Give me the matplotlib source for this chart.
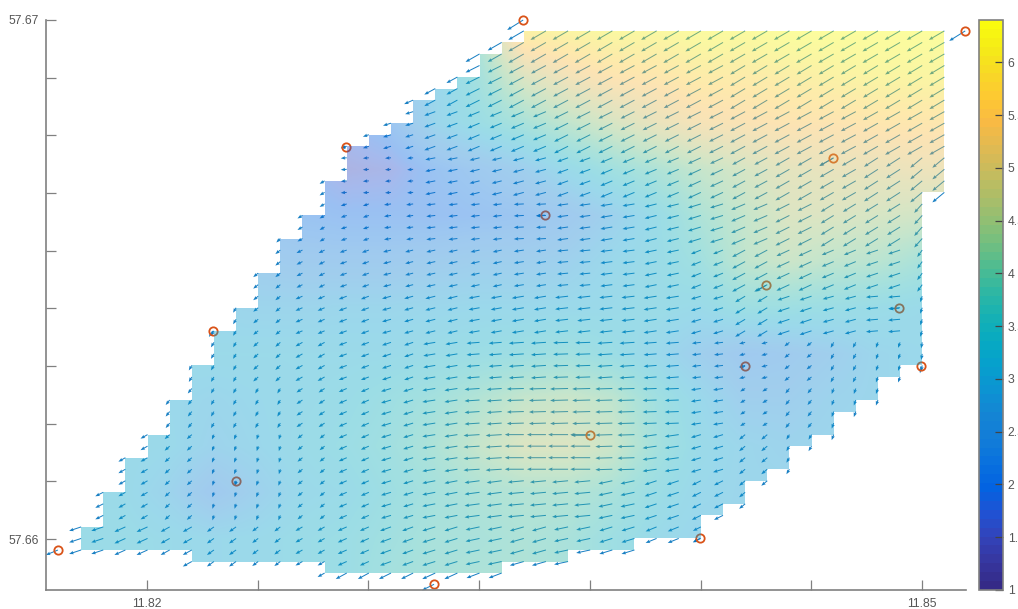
import numpy as np
import matplotlib
matplotlib.use('Agg')
import matplotlib.pyplot as plt
from matplotlib.colors import LinearSegmentedColormap
from matplotlib.patches import Polygon

plt.rcParams['font.family'] = ['Liberation Sans', 'DejaVu Sans']

# grid the field is defined on
lon_start = 11.81745
lat_top = 57.66979
lon_step = 0.0008567
lat_step = -0.0002222

# first and last row of every column of cells (coast mask)
col_top = [43, 40, 37, 35, 32, 29, 26, 24, 21, 18, 16, 13, 10, 9, 8, 6, 5, 4, 2, 1,
           0, 0, 0, 0, 0, 0, 0, 0, 0, 0, 0, 0, 0, 0, 0, 0, 0, 0, 0]
col_bottom = [45, 45, 45, 45, 45, 46, 46, 46, 46, 46, 46, 47, 47, 47, 47, 47, 47, 47, 47,
              46, 46, 46, 45, 45, 45, 44, 44, 44, 42, 41, 39, 38, 36, 35, 33, 32, 30, 29, 14]

# coarse reading of the field: grid columns and rows the tables below sit on
table_cols = [0, 2, 4, 6, 8, 10, 12, 14, 16, 18, 20, 22, 24, 26, 28, 30, 32, 34, 36, 38, 40]
table_rows = [0, 4, 8, 12, 16, 20, 24, 28, 32, 36, 40, 44, 48]

speed = [
    [3.0, 3.0, 3.0, 3.0, 3.0, 3.0, 3.0, 3.0, 3.4, 4.0, 6.0, 6.1, 6.2, 6.2, 6.3, 6.3, 6.4, 6.4, 6.4, 6.4, 6.4],
    [2.4, 2.4, 2.4, 2.4, 2.4, 2.4, 2.4, 2.6, 3.0, 3.7, 4.7, 5.2, 5.5, 5.6, 5.8, 5.8, 5.9, 6.0, 6.1, 6.1, 6.1],
    [2.0, 2.0, 2.0, 2.0, 2.0, 2.0, 1.8, 2.2, 3.0, 3.4, 3.8, 4.2, 4.6, 5.0, 5.3, 5.4, 5.5, 5.5, 5.6, 5.6, 5.6],
    [2.0, 2.0, 2.0, 2.0, 2.0, 1.9, 1.5, 1.6, 2.1, 2.4, 2.7, 3.2, 3.6, 3.9, 4.3, 4.6, 4.9, 5.0, 5.0, 5.1, 5.1],
    [2.3, 2.3, 2.3, 2.3, 2.2, 2.1, 2.0, 2.0, 2.0, 2.1, 2.2, 2.4, 2.8, 3.3, 3.9, 4.3, 4.7, 4.7, 4.6, 4.5, 4.5],
    [2.7, 2.7, 2.7, 2.7, 2.6, 2.5, 2.5, 2.5, 2.6, 2.7, 2.7, 2.8, 3.1, 3.3, 3.6, 4.2, 4.4, 4.2, 4.1, 3.8, 3.8],
    [3.0, 3.0, 3.0, 3.0, 2.95, 2.95, 3.0, 3.0, 3.05, 3.1, 3.1, 3.15, 3.2, 3.3, 3.2, 3.5, 3.5, 3.4, 3.3, 3.2, 3.2],
    [3.2, 3.2, 3.2, 3.2, 3.2, 3.2, 3.2, 3.2, 3.3, 3.4, 3.5, 3.6, 3.4, 3.1, 2.7, 2.4, 2.5, 2.7, 3.0, 3.1, 3.1],
    [3.2, 3.2, 3.1, 3.0, 3.1, 3.2, 3.3, 3.5, 3.7, 4.0, 4.3, 4.4, 4.2, 3.6, 3.1, 2.7, 2.7, 2.9, 3.0, 3.1, 3.1],
    [3.2, 3.2, 3.15, 2.9, 3.05, 3.25, 3.4, 3.6, 3.9, 4.3, 4.7, 4.7, 4.4, 3.7, 3.2, 3.0, 2.9, 3.0, 3.0, 3.1, 3.1],
    [3.2, 3.2, 2.9, 2.4, 2.8, 3.15, 3.25, 3.5, 3.7, 3.9, 4.0, 4.0, 3.8, 3.4, 3.1, 3.0, 3.0, 3.0, 3.0, 3.1, 3.1],
    [3.3, 3.3, 3.2, 3.1, 3.15, 3.3, 3.4, 3.6, 3.8, 3.8, 3.9, 3.8, 3.5, 3.2, 3.0, 3.0, 3.0, 3.0, 3.0, 3.1, 3.1],
    [3.3, 3.3, 3.2, 3.1, 3.15, 3.3, 3.4, 3.7, 3.8, 3.9, 3.9, 3.8, 3.5, 3.2, 3.0, 3.0, 3.0, 3.0, 3.0, 3.1, 3.1],
]

# arrow components, westward and southward
west = [
    [11, 11, 11, 11, 11, 11, 11, 11, 12, 14, 15.5, 15.5, 15.5, 15.5, 15.5, 15.5, 15.5, 15.5, 15.5, 15.5, 15.5],
    [8, 8, 8, 8, 8, 8, 8, 9, 11, 14, 15, 15, 15, 15, 15, 15, 15, 15, 15, 15, 15],
    [6, 6, 6, 6, 6, 6, 6, 8, 11, 12, 13, 14, 14, 14, 14, 15, 15, 15, 15, 15, 15],
    [5, 5, 5, 5, 5, 5, 6, 6, 10, 10, 11, 11, 12, 12, 13, 13, 14, 14, 14, 12, 12],
    [5, 5, 5, 5, 4, 5, 6, 7, 9, 9, 10, 11, 12, 12, 13, 14, 14, 13, 13, 8, 8],
    [4, 4, 4, 3.5, 5, 6, 7, 8, 9, 9, 10, 11, 12, 12, 10, 13, 13, 12, 12, 5, 5],
    [3, 3, 3, 3, 5, 7, 8, 9, 10, 11, 12, 13, 13, 13, 10, 10, 12, 11, 12, 2, 2],
    [3, 3, 3, 3, 5, 7, 8, 9, 12, 13, 15, 15, 15, 13, 9, 6, 5, 3, 2, 1, 1],
    [4, 4, 4, 3, 3, 6, 8, 10, 13, 15, 17, 18, 17, 14, 10, 5, 4, 2, 2, 1, 1],
    [7, 7, 5, 2, 1.5, 5, 8, 10, 13, 16, 19, 20, 17, 14, 10, 6, 3, 2, 2, 1, 1],
    [8, 7, 5, 1.5, 2, 5, 8, 10, 13, 15, 16, 16, 14, 12, 9, 6, 3, 2, 2, 1, 1],
    [12, 11, 9, 7, 6, 7, 9, 11, 13, 14, 14, 14, 13, 11, 8, 6, 3, 2, 2, 1, 1],
    [12, 11, 9, 7, 6, 7, 11, 12, 13, 13, 11, 11, 13, 11, 9, 6, 3, 2, 2, 1, 1],
]
south = [
    [7, 7, 7, 7, 7, 7, 7, 7, 7, 8, 9, 9, 9, 9, 9, 9, 9, 9, 9, 9, 9],
    [3, 3, 3, 3, 3, 3, 3, 4, 6, 7, 8, 8, 8, 8, 8, 9, 9, 9, 9, 9, 9],
    [2, 2, 2, 2, 2, 2, 2, 2.5, 4, 5, 5.5, 7, 7, 7, 7, 8, 8, 8, 8.5, 8.5, 8.5],
    [3, 3, 3, 3, 3, 3, 0.5, 0.5, 2, 2.5, 3, 4, 5, 5, 6, 7, 8, 8, 9, 10, 10],
    [4, 4, 4, 4, 4, 3, 2, 1, 1, 1, 0.5, 1.5, 2, 3, 4, 6, 7, 8, 8, 9, 9],
    [5, 5, 5, 5, 4, 3, 2.5, 2, 2, 2, 1.5, 1, 1.5, 2.5, 4, 7, 6, 5, 4, 7, 7],
    [5, 5, 5, 5, 4, 3, 3, 2.5, 2.5, 2, 2, 1.5, 1.5, 2, 3, 6, 4, 3, 1, 6, 6],
    [5, 5, 5, 5, 4.5, 4, 3, 3, 2, 1, 1, 0.5, 1, 1, 1, 1.5, 4, 5.5, 5.5, 6, 6],
    [5, 5, 5, 5, 5, 4, 3.5, 3, 2, 1, 0.5, 0.5, 0.5, 0.5, 1.5, 3, 5, 5.5, 5.5, 6, 6],
    [4, 4, 4.5, 5, 5, 4, 3.5, 3, 2, 1, 0, 0, 0.5, 2, 3, 5, 5, 5.5, 5.5, 6, 6],
    [4, 4, 4.5, 5, 5, 4, 3.5, 3, 2.5, 2, 1.5, 1.5, 3, 4, 4.5, 5, 5.5, 5.5, 5.5, 6, 6],
    [4, 5, 5, 5, 4.5, 4, 4, 4, 4, 3, 4, 3, 4, 4.5, 4, 5, 5.5, 5.5, 5.5, 6, 6],
    [4, 5, 5, 5, 4.5, 4, 6, 6, 6, 5, 6, 5, 4, 5, 5, 5, 5.5, 5.5, 5.5, 6, 6],
]

# measuring stations
station_lon = [11.81655, 11.83456, 11.85167, 11.82770, 11.83541, 11.84656, 11.84396, 11.84911,
               11.84315, 11.84996, 11.83715, 11.82255, 11.82345, 11.83111, 11.84141]
station_lat = [57.65979, 57.67000, 57.66979, 57.66755, 57.66624, 57.66734, 57.66489, 57.66445,
               57.66333, 57.66333, 57.66200, 57.66401, 57.66112, 57.65913, 57.66002]
station_west = [12, 16, 16, 5, 9, 14, 10, 10, 6, 1, 19, 4, 1, 12, 7]
station_south = [5, 10, 10, 0.5, 0.5, 8, 6, 1, 1.5, 7, 0, 6, 5, 6, 4]

xtick_labels = ['11.82', '', '', '', '', '', '', '11.85']
ytick_labels = ['57.66', '', '', '', '', '', '', '', '', '57.67']
cbar_ticks = [1, 1.5, 2, 2.5, 3, 3.5, 4, 4.5, 5, 5.5, 6]
cbar_labels = ['1', '1.5', '2', '2.5', '3', '3.5', '4', '4.5', '5', '5.5', '6']

parula_colors = [
    (0.2081, 0.1663, 0.5292), (0.2123, 0.2138, 0.6270), (0.1959, 0.2645, 0.7279),
    (0.1253, 0.3242, 0.8303), (0.0117, 0.3875, 0.8820), (0.0329, 0.4430, 0.8720),
    (0.0723, 0.4887, 0.8467), (0.0793, 0.5200, 0.8312), (0.0488, 0.5772, 0.8228),
    (0.0239, 0.6287, 0.8038), (0.0267, 0.6642, 0.7607), (0.0843, 0.6928, 0.7062),
    (0.1801, 0.7177, 0.6424), (0.3022, 0.7376, 0.5712), (0.4420, 0.7481, 0.5033),
    (0.5709, 0.7485, 0.4494), (0.6834, 0.7435, 0.4044), (0.7858, 0.7356, 0.3633),
    (0.8824, 0.7274, 0.3217), (0.9739, 0.7314, 0.2666), (0.9955, 0.7861, 0.1967),
    (0.9697, 0.8481, 0.1475), (0.9598, 0.9218, 0.0948), (0.9763, 0.9831, 0.0538),
]
parula = LinearSegmentedColormap.from_list('parula', parula_colors, N=64)
parula_smooth = LinearSegmentedColormap.from_list('parula_smooth', parula_colors, N=256)

GREY = '#555555'
SPINE = '#808080'

fig = plt.figure(figsize=(10.18, 6.09), dpi=100)
ax = fig.add_axes([46 / 1018, 19 / 609, 920 / 1018, 570 / 609])


def node_lon(j):
    return lon_start + lon_step * np.asarray(j)


def node_lat(k):
    return lat_top + lat_step * np.asarray(k)


# arrows on every node that touches a cell
xs, ys, us, vs = [], [], [], []
west_arr = np.array(west, dtype=float)
south_arr = np.array(south, dtype=float)
n_cols = len(col_top)
for j in range(n_cols + 1):
    near = [c for c in (j - 1, j) if 0 <= c < n_cols]
    k0 = min(col_top[c] for c in near)
    k1 = max(col_bottom[c] for c in near)
    col_i = int(np.argmin(np.abs(np.array(table_cols) - j)))
    for k in range(k0, k1 + 1):
        row_i = int(np.argmin(np.abs(np.array(table_rows) - k)))
        xs.append(node_lon(j))
        ys.append(node_lat(k))
        us.append(-west_arr[row_i, col_i])
        vs.append(-south_arr[row_i, col_i])
xs += station_lon
ys += station_lat
us += [-w for w in station_west]
vs += [-s for s in station_south]

ax.quiver(xs, ys, us, vs, angles='uv', scale_units='dots', scale=1, units='dots',
          width=1.0, headwidth=3.5, headlength=4.5, headaxislength=4, minlength=0.5,
          color='#0072BD', alpha=0.9, zorder=1, clip_on=False)
ax.plot(station_lon, station_lat, 'o', ms=6, mfc='none', mec='#D95319', mew=1.3, zorder=2,
        clip_on=False)

# field on top of the arrows, cut to the staircase outline
half_lon = (table_cols[1] - table_cols[0]) / 2
half_lat = (table_rows[1] - table_rows[0]) / 2
field = ax.imshow(np.array(speed), origin='upper', cmap=parula_smooth, vmin=1, vmax=6.4, alpha=0.4,
                  interpolation='bilinear', aspect='auto', zorder=3,
                  extent=[node_lon(table_cols[0] - half_lon), node_lon(table_cols[-1] + half_lon),
                          node_lat(table_rows[-1] + half_lat), node_lat(table_rows[0] - half_lat)])
ax.set_xlim(11.81609, 11.85170)
ax.set_ylim(57.65902, 57.67)
outline = []
for c in range(n_cols):
    outline += [(node_lon(c), node_lat(col_top[c])), (node_lon(c + 1), node_lat(col_top[c]))]
for c in range(n_cols - 1, -1, -1):
    outline += [(node_lon(c + 1), node_lat(col_bottom[c])), (node_lon(c), node_lat(col_bottom[c]))]
clip = Polygon(outline, closed=True, transform=ax.transData)
field.set_clip_path(clip)

ax.spines['top'].set_visible(False)
ax.spines['right'].set_visible(False)
for side in ('left', 'bottom'):
    ax.spines[side].set_color(SPINE)
    ax.spines[side].set_linewidth(1.2)
ax.set_xticks(np.linspace(11.82, 11.85, 8))
ax.set_xticklabels(xtick_labels)
ax.set_yticks(np.linspace(57.66, 57.67, 10))
ax.set_yticklabels(ytick_labels)
ax.tick_params(direction='in', length=7.5, width=0.9, color=SPINE, labelcolor=GREY, labelsize=8.8)
ax.tick_params(axis='x', pad=6)
ax.tick_params(axis='y', pad=5)

cax = fig.add_axes([979 / 1018, 19 / 609, 24 / 1018, 570 / 609])
cbar = fig.colorbar(plt.cm.ScalarMappable(norm=field.norm, cmap=parula), cax=cax)
cbar.set_ticks(cbar_ticks)
cbar.set_ticklabels(cbar_labels)
cbar.outline.set_edgecolor(SPINE)
cbar.outline.set_linewidth(1.2)
cax.tick_params(direction='in', length=6, width=0.9, color='#444444', labelcolor=GREY,
                labelsize=8.8, pad=3.5)

fig.savefig('out.png', dpi=100)
